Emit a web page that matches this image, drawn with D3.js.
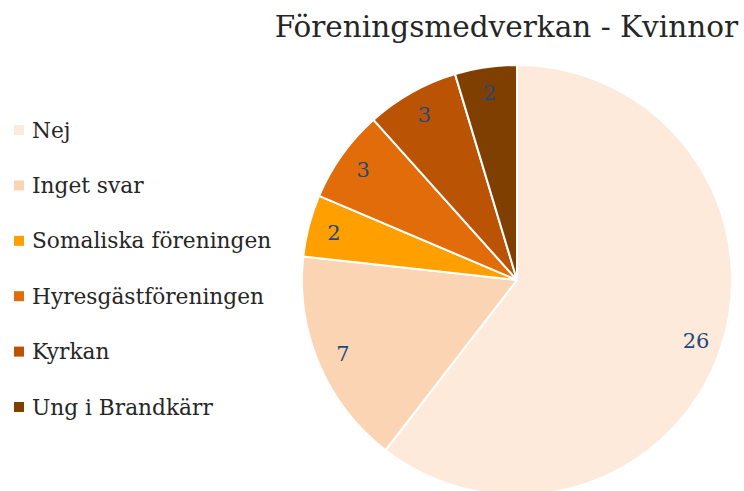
<!DOCTYPE html>
<html>
<head>
<meta charset="utf-8">
<script src="https://cdn.jsdelivr.net/npm/d3@7"></script>
<style>
  body { margin: 0; background: #fff; }
  text { font-family: "DejaVu Serif", "Liberation Serif", serif; }
</style>
</head>
<body>
<div id="graph"></div>
<script>
var categories = ['Nej', 'Inget svar', 'Somaliska föreningen', 'Hyresgästföreningen', 'Kyrkan', 'Ung i Brandkärr']
var values = [26, 7, 2, 3, 3, 2]
var colors = ['#FDEADA', '#FBD4B4', '#FF9F00', '#E36C0A', '#BA5304', '#7F3F00']
var title = 'Föreningsmedverkan - Kvinnor'

var width = 744, height = 491
var svg = d3.select('#graph').append('svg')
  .attr('width', width).attr('height', height)

var data = categories.map((c, i) => ({name: c, value: values[i], color: colors[i]}))

var cx = 517, cy = 280, r = 215

var pie = d3.pie().sort(null).value(d => d.value)
var arc = d3.arc().innerRadius(0).outerRadius(r)
var labelArc = d3.arc().innerRadius(r * 0.88).outerRadius(r * 0.88)

var g = svg.append('g').attr('transform', `translate(${cx},${cy})`)

var arcs = pie(data)

g.selectAll('path').data(arcs).enter().append('path')
  .attr('d', arc)
  .attr('fill', d => d.data.color)
  .attr('stroke', '#fff')
  .attr('stroke-width', 2)
  .attr('stroke-linejoin', 'round')

g.selectAll('text.lbl').data(arcs).enter().append('text')
  .attr('class', 'lbl')
  .attr('transform', d => `translate(${labelArc.centroid(d)})`)
  .attr('text-anchor', 'middle')
  .attr('dy', '0.35em')
  .attr('font-size', 21)
  .attr('fill', '#1F497D')
  .text(d => d.value)

// title
svg.append('text')
  .attr('x', 738).attr('y', 37)
  .attr('text-anchor', 'end')
  .attr('font-size', 29.5)
  .attr('fill', '#262626')
  .text(title)

// legend
var ly = d3.scalePoint().domain(categories).range([130, 407])

var leg = svg.selectAll('g.leg').data(data).enter().append('g')
  .attr('class', 'leg')
  .attr('transform', d => `translate(14,${ly(d.name)})`)

leg.append('rect')
  .attr('x', 0).attr('y', -5)
  .attr('width', 10).attr('height', 10)
  .attr('fill', d => d.color)

leg.append('text')
  .attr('x', 18).attr('y', 0)
  .attr('dy', '0.35em')
  .attr('font-size', 21.7)
  .attr('fill', '#262626')
  .text(d => d.name)
</script>
</body>
</html>
